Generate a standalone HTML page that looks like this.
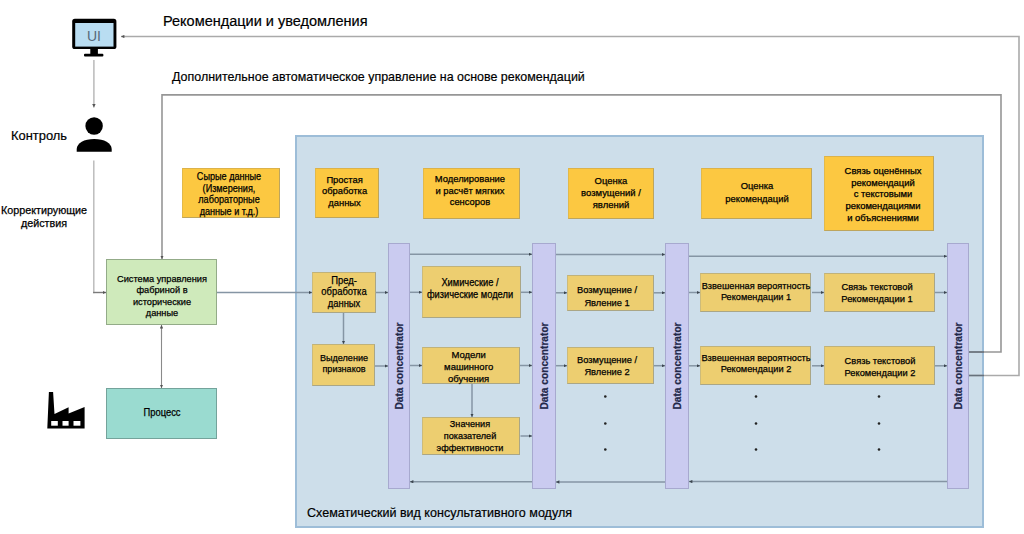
<!DOCTYPE html>
<html><head><meta charset="utf-8">
<style>
*{margin:0;padding:0;box-sizing:border-box}
html,body{width:1024px;height:534px;background:#fff;overflow:hidden}
body{font-family:"Liberation Sans",sans-serif;color:#111;position:relative}
.a{position:absolute}
.b{position:absolute}
.t{position:absolute;white-space:nowrap;text-align:center;color:#000;-webkit-text-stroke:0.25px #000;transform-origin:50% 50%}
.l{position:absolute;white-space:nowrap;color:#000;-webkit-text-stroke:0.2px #000;transform-origin:0 50%}
.bar{position:absolute;background:#cacbf0;border:1px solid #a7a9cf;top:243px;height:246px}
.bar span{position:absolute;left:calc(50% + 1px);top:50%;transform:translate(-50%,-50%) rotate(-90deg);font-size:10.2px;font-weight:bold;white-space:nowrap;color:#23284a;line-height:12px;-webkit-text-stroke:0.2px #23284a}
</style></head><body>
<div class="a" style="left:295px;top:135px;width:689px;height:393px;background:#cddeea;border:2px solid #9dbdd8"></div>

<div class="b" style="left:181.8px;top:167.9px;width:98.1px;height:50.5px;background:#fcc841;border:1px solid;border-color:#dcb24a #bda55e #bda55e #e3b94a"></div>
<div class="b" style="left:315px;top:167.8px;width:63.7px;height:50.5px;background:#fcc841;border:1px solid;border-color:#dcb24a #bda55e #bda55e #e3b94a"></div>
<div class="b" style="left:422.5px;top:167.7px;width:97.7px;height:50.9px;background:#fcc841;border:1px solid;border-color:#dcb24a #bda55e #bda55e #e3b94a"></div>
<div class="b" style="left:567.5px;top:167.7px;width:86.1px;height:50.9px;background:#fcc841;border:1px solid;border-color:#dcb24a #bda55e #bda55e #e3b94a"></div>
<div class="b" style="left:700.5px;top:167.7px;width:111.1px;height:51.3px;background:#fcc841;border:1px solid;border-color:#dcb24a #bda55e #bda55e #e3b94a"></div>
<div class="b" style="left:824.2px;top:155.7px;width:110.3px;height:75.6px;background:#fcc841;border:1px solid;border-color:#dcb24a #bda55e #bda55e #e3b94a"></div>
<div class="b" style="left:312.2px;top:271.8px;width:63.6px;height:40.9px;background:#edce70;border:1px solid;border-color:#c0b27a #aaa686 #aaa686 #cdbb7a"></div>
<div class="b" style="left:312.3px;top:344.3px;width:62.8px;height:41.9px;background:#edce70;border:1px solid;border-color:#c0b27a #aaa686 #aaa686 #cdbb7a"></div>
<div class="b" style="left:422.1px;top:266.2px;width:98.7px;height:52px;background:#edce70;border:1px solid;border-color:#c0b27a #aaa686 #aaa686 #cdbb7a"></div>
<div class="b" style="left:422.3px;top:346.8px;width:98px;height:37.2px;background:#edce70;border:1px solid;border-color:#c0b27a #aaa686 #aaa686 #cdbb7a"></div>
<div class="b" style="left:422.1px;top:417.1px;width:98.4px;height:38.3px;background:#edce70;border:1px solid;border-color:#c0b27a #aaa686 #aaa686 #cdbb7a"></div>
<div class="b" style="left:567.1px;top:274.7px;width:86.5px;height:36.4px;background:#edce70;border:1px solid;border-color:#c0b27a #aaa686 #aaa686 #cdbb7a"></div>
<div class="b" style="left:567.1px;top:346.8px;width:86.5px;height:37.2px;background:#edce70;border:1px solid;border-color:#c0b27a #aaa686 #aaa686 #cdbb7a"></div>
<div class="b" style="left:700.3px;top:273.4px;width:111.2px;height:38.3px;background:#edce70;border:1px solid;border-color:#c0b27a #aaa686 #aaa686 #cdbb7a"></div>
<div class="b" style="left:700.3px;top:346.4px;width:111.2px;height:38.3px;background:#edce70;border:1px solid;border-color:#c0b27a #aaa686 #aaa686 #cdbb7a"></div>
<div class="b" style="left:824.4px;top:273.4px;width:110.3px;height:38.3px;background:#edce70;border:1px solid;border-color:#c0b27a #aaa686 #aaa686 #cdbb7a"></div>
<div class="b" style="left:824.4px;top:346.4px;width:110.3px;height:38.6px;background:#edce70;border:1px solid;border-color:#c0b27a #aaa686 #aaa686 #cdbb7a"></div>
<div class="b" style="left:105.8px;top:259.3px;width:111.2px;height:65.3px;background:#cfeabb;border:1px solid;border-color:#93ab88"></div>
<div class="b" style="left:106px;top:387.7px;width:111px;height:51.1px;background:#9adbd0;border:1px solid;border-color:#74a39b"></div>
<div class="bar" style="left:388px;width:22px"><span>Data concentrator</span></div>
<div class="bar" style="left:532px;width:23.5px"><span>Data concentrator</span></div>
<div class="bar" style="left:665px;width:23.6px"><span>Data concentrator</span></div>
<div class="bar" style="left:947px;width:22px"><span>Data concentrator</span></div>
<div class="t" style="left:162.3px;top:272.6px;font-size:9.8px;line-height:11.6px;transform:translateX(-50%) scaleX(0.941)">Система управления<br>фабриной в<br>исторические<br>данные</div>
<div class="t" style="left:228.75px;top:170.96px;font-size:10px;line-height:11.55px;transform:translateX(-50%) scaleX(0.91)">Сырые данные<br>(Измерения,<br>лабораторные<br>данные и т.д.)</div>
<div class="t" style="left:344.55px;top:173.54px;font-size:9.4px;line-height:11.8px;transform:translateX(-50%) scaleX(1.0)">Простая<br>обработка<br>данных</div>
<div class="t" style="left:469.95px;top:172.74px;font-size:9.4px;line-height:11.8px;transform:translateX(-50%) scaleX(1.0)">Моделирование<br>и расчёт мягких<br>сенсоров</div>
<div class="t" style="left:611.4px;top:175.21px;font-size:9.2px;line-height:12.0px;transform:translateX(-50%) scaleX(1.03)">Оценка<br>возмущений /<br>явлений</div>
<div class="t" style="left:756.5px;top:180.49px;font-size:9.4px;line-height:12.3px;transform:translateX(-50%) scaleX(1.004)">Оценка<br>рекомендаций</div>
<div class="t" style="left:882.5px;top:166.19px;font-size:8.4px;line-height:11.6px;transform:translateX(-50%) scaleX(1.125)">Связь оценённых<br>рекомендаций<br>с текстовыми<br>рекомендациями<br>и объяснениями</div>
<div class="t" style="left:343.65px;top:274.6px;font-size:10.4px;line-height:11.8px;transform:translateX(-50%) scaleX(0.904)">Пред-<br>обработка<br>данных</div>
<div class="t" style="left:343.75px;top:353.17px;font-size:9.9px;line-height:10.8px;transform:translateX(-50%) scaleX(0.917)">Выделение<br>признаков</div>
<div class="t" style="left:470px;top:276.84px;font-size:10px;line-height:11.8px;transform:translateX(-50%) scaleX(0.929)">Химические /<br>физические модели</div>
<div class="t" style="left:468.65px;top:348.61px;font-size:9.5px;line-height:12px;transform:translateX(-50%) scaleX(1.0)">Модели<br>машинного<br>обучения</div>
<div class="t" style="left:470.4px;top:417.78px;font-size:9.3px;line-height:12px;transform:translateX(-50%) scaleX(0.98)">Значения<br>показателей<br>эффективности</div>
<div class="t" style="left:607.1px;top:284.17px;font-size:9.9px;line-height:12.4px;transform:translateX(-50%) scaleX(0.94)">Возмущение /<br>Явление 1</div>
<div class="t" style="left:606.75px;top:353.52px;font-size:9.9px;line-height:12.1px;transform:translateX(-50%) scaleX(0.94)">Возмущение /<br>Явление 2</div>
<div class="t" style="left:756px;top:281.32px;font-size:9.9px;line-height:10.9px;transform:translateX(-50%) scaleX(0.93)">Взвешенная вероятность<br>Рекомендации 1</div>
<div class="t" style="left:756px;top:353.47px;font-size:9.9px;line-height:10.6px;transform:translateX(-50%) scaleX(0.935)">Взвешенная вероятность<br>Рекомендации 2</div>
<div class="t" style="left:877px;top:280.8px;font-size:9.1px;line-height:12.1px;transform:translateX(-50%) scaleX(1.026)">Связь текстовой<br>Рекомендации 1</div>
<div class="t" style="left:879.8px;top:355px;font-size:9.1px;line-height:12.3px;transform:translateX(-50%) scaleX(1.02)">Связь текстовой<br>Рекомендации 2</div>
<div class="t" style="left:161.5px;top:407.37px;font-size:10.2px;line-height:12px;transform:translateX(-50%) scaleX(0.92)">Процесс</div>
<div class="l" style="left:162.92px;top:13.56px;font-size:14.7px;line-height:14.7px;transform:scaleX(0.988)">Рекомендации и уведомления</div>
<div class="l" style="left:171.8px;top:70.34px;font-size:13.3px;line-height:13.3px;transform:scaleX(0.9366)">Дополнительное автоматическое управление на основе рекомендаций</div>
<div class="l" style="left:10.99px;top:129.17px;font-size:13.5px;line-height:13.5px;transform:scaleX(0.955)">Контроль</div>
<div class="l" style="left:307.11px;top:506.21px;font-size:13.1px;line-height:13.1px;transform:scaleX(0.957)">Схематический вид консультативного модуля</div>
<div class="t" style="left:44px;top:203.6px;font-size:10.4px;line-height:13.2px;transform:translateX(-50%) scaleX(1.035)">Корректирующие<br>действия</div>
<svg class="a" style="left:0;top:0" width="1024" height="534" viewBox="0 0 1024 534">
<defs>
<marker id="ah" viewBox="0 0 6 6" refX="6" refY="3" markerWidth="3.6" markerHeight="3.4" orient="auto" markerUnits="userSpaceOnUse"><path d="M0,0L6,3L0,6z" fill="#3c4650"/></marker>
<marker id="ag" viewBox="0 0 6 6" refX="6" refY="3" markerWidth="3.6" markerHeight="3.4" orient="auto" markerUnits="userSpaceOnUse"><path d="M0,0L6,3L0,6z" fill="#555"/></marker>
</defs>
<g fill="none" stroke-width="1.6">
<polyline stroke="#aaaaaa" points="969,375.5 1019,375.5 1019,36.5 121,36.5" marker-end="url(#ag)"/>
<polyline stroke="#969696" points="969,352 1001,352 1001,94.9 162,94.9 162,259" marker-end="url(#ag)"/>
</g>
<g fill="none" stroke="#8a8a8a" stroke-width="1.1">
<line x1="93.9" y1="60" x2="93.9" y2="107.5" stroke="#b4b4b4" stroke-width="1.4" marker-end="url(#ag)"/>
<line x1="93.8" y1="160.4" x2="93.8" y2="293.2" stroke="#b8b8b8" stroke-width="1.4"/>
<line x1="93.1" y1="292.5" x2="106" y2="292.5" stroke="#7a7a7a" stroke-width="1.4" marker-end="url(#ag)"/>
<line x1="161.5" y1="340" x2="161.5" y2="325" marker-end="url(#ag)"/>
<line x1="161.5" y1="330" x2="161.5" y2="388" marker-end="url(#ag)"/>
</g>
<g fill="none" stroke="#8595a4" stroke-width="1.5">
<line x1="217" y1="292.5" x2="312" y2="292.5" marker-end="url(#ah)"/>
<line x1="376" y1="292.5" x2="388" y2="292.5" marker-end="url(#ah)"/>
<line x1="343.5" y1="313" x2="343.5" y2="344" marker-end="url(#ah)"/>
<line x1="375" y1="366" x2="388" y2="366" marker-end="url(#ah)"/>
<line x1="410" y1="254.3" x2="532" y2="254.3" marker-end="url(#ah)"/>
<line x1="410" y1="292.3" x2="422" y2="292.3" marker-end="url(#ah)"/>
<line x1="410" y1="365.5" x2="422" y2="365.5" marker-end="url(#ah)"/>
<line x1="521" y1="292.3" x2="532" y2="292.3" marker-end="url(#ah)"/>
<line x1="520" y1="365.5" x2="532" y2="365.5" marker-end="url(#ah)"/>
<line x1="472" y1="384" x2="472" y2="417" marker-end="url(#ah)"/>
<line x1="520.5" y1="436" x2="532" y2="436" marker-end="url(#ah)"/>
<line x1="532" y1="481.7" x2="410" y2="481.7" marker-end="url(#ah)"/>
<line x1="556" y1="254.5" x2="665" y2="254.5" marker-end="url(#ah)"/>
<line x1="556" y1="292.8" x2="567" y2="292.8" marker-end="url(#ah)"/>
<line x1="654" y1="292.8" x2="665" y2="292.8" marker-end="url(#ah)"/>
<line x1="556" y1="365.7" x2="567" y2="365.7" marker-end="url(#ah)"/>
<line x1="654" y1="365.7" x2="665" y2="365.7" marker-end="url(#ah)"/>
<line x1="665" y1="482" x2="556" y2="482" marker-end="url(#ah)"/>
<line x1="689" y1="256.3" x2="947" y2="256.3" marker-end="url(#ah)"/>
<line x1="689" y1="292.5" x2="700" y2="292.5" marker-end="url(#ah)"/>
<line x1="812" y1="292.5" x2="824" y2="292.5" marker-end="url(#ah)"/>
<line x1="935" y1="292.5" x2="947" y2="292.5" marker-end="url(#ah)"/>
<line x1="689" y1="365.8" x2="700" y2="365.8" marker-end="url(#ah)"/>
<line x1="812" y1="365.8" x2="824" y2="365.8" marker-end="url(#ah)"/>
<line x1="935" y1="365.8" x2="947" y2="365.8" marker-end="url(#ah)"/>
<line x1="947" y1="481.6" x2="689" y2="481.6" marker-end="url(#ah)"/>
<line x1="969" y1="352" x2="984" y2="352" stroke="#66717c"/>
<line x1="969" y1="375.5" x2="984" y2="375.5" stroke="#66717c"/>
</g>
<g fill="#222">
<circle cx="605.3" cy="396.5" r="1.3"/><circle cx="605.3" cy="423.5" r="1.3"/><circle cx="605.3" cy="449.5" r="1.3"/>
<circle cx="756" cy="396.5" r="1.3"/><circle cx="756" cy="423.5" r="1.3"/><circle cx="756" cy="449.5" r="1.3"/>
<circle cx="879" cy="396.5" r="1.3"/><circle cx="879" cy="423.5" r="1.3"/><circle cx="879" cy="449.5" r="1.3"/>
</g>
<rect x="72.2" y="18.8" width="44.2" height="30.3" rx="2.6" fill="#000"/>
<rect x="75.2" y="23" width="38.3" height="23.6" fill="#b9ddf2"/>
<rect x="90.3" y="48" width="7.6" height="6.5" fill="#000"/>
<rect x="84" y="53.8" width="19.4" height="2.6" rx="1" fill="#000"/>
<text x="93.9" y="40.7" text-anchor="middle" font-family="Liberation Sans" font-size="14" fill="#56697a">UI</text>
<circle cx="94.1" cy="126" r="8.7" fill="#000"/>
<path d="M76.7,151.7 L76.7,149 C77,143 84,139 94.2,139 C104.4,139 111.4,143 111.7,149 L111.7,151.7Z" fill="#000"/>
<path d="M48.9,392 L53.1,392 L54.5,414 L68.6,407.3 L68.6,413.5 L84.6,407 L84.6,428.5 L47.3,428.5Z" fill="#000"/>
<rect x="51.2" y="421" width="6.6" height="4.7" fill="#fff"/>
<rect x="62.5" y="421" width="6.1" height="4.7" fill="#fff"/>
<rect x="73.5" y="421" width="6.9" height="4.7" fill="#fff"/>
</svg>

</body></html>
